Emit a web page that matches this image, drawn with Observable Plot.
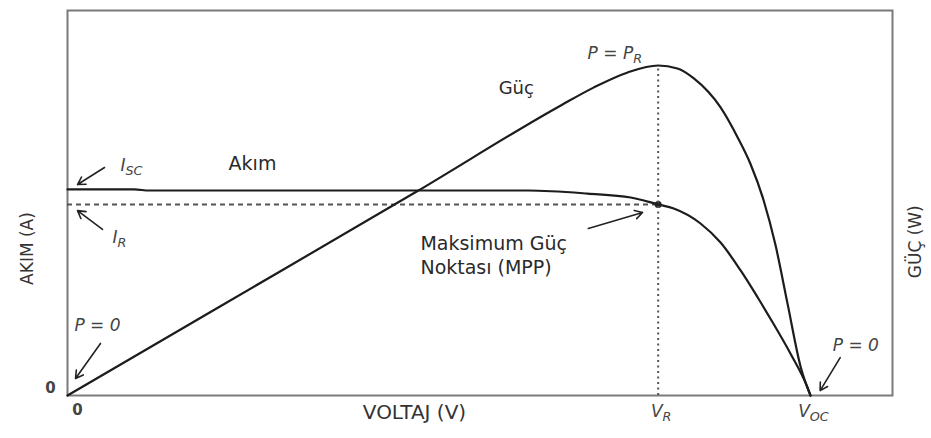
<!DOCTYPE html>
<html><head><meta charset="utf-8">
<script src="https://cdn.jsdelivr.net/npm/d3@7"></script>
<script src="https://cdn.jsdelivr.net/npm/@observablehq/plot@0.6"></script>
<style>
body{margin:0;background:#fff}
#chart{position:relative;width:931px;height:438px}
#chart svg{position:absolute;left:0;top:0}
</style>
</head><body><div id="chart"></div><script>
// Voltage as a fraction of V_OC; current as a fraction of I_SC; power as a fraction of P_R
const currentVoltage = [0, 0.09, 0.11, 0.62, 0.70, 0.758, 0.795, 0.816, 0.852, 0.879, 0.906, 0.929, 0.950, 0.973, 0.996, 1.0];
const currentValues  = [1.005, 1.005, 1.0, 1.0, 0.985, 0.966, 0.932, 0.912, 0.839, 0.746, 0.610, 0.478, 0.351, 0.205, 0.039, 0];
const powerVoltage = [0, 0.20, 0.470, 0.664, 0.708, 0.754, 0.795, 0.821, 0.843, 0.879, 0.902, 0.919, 0.937, 0.953, 0.969, 0.987, 1.0];
const powerValues  = [0, 0.263, 0.618, 0.879, 0.933, 0.979, 1.0, 0.991, 0.961, 0.873, 0.782, 0.703, 0.591, 0.455, 0.28, 0.085, 0];
const vR = 0.795, iR = 0.932, pR = 1.0;

const xDomain = [0, 1.1104];
const yCurrentDomain = [0, 1.878];
const yPowerDomain = [0, 1.1667];

// Tick labels
const xTickPos = [0, vR, 1];
const xTickText = ["0", "V_R", "V_OC"];
const xTickItalic = [false, true, true];

// Annotation texts (in current-plot units)
const middleLabels = [
  {v: 0.249, i: 1.132, text: "Akım", size: 19},
  {v: 0.604, i: 1.498, text: "Güç", size: 18}
];
const startLabels = [
  {v: 0.475, i: 0.741, text: "Maksimum Güç"},
  {v: 0.475, i: 0.624, text: "Noktası (MPP)"}
];
const italicStart = [
  {v: 0.0713, i: 1.122, text: "I_SC"},
  {v: 0.0606, i: 0.771, text: "I_R"},
  {v: 0.700, i: 1.668, text: "P = P_R"}
];
const italicMiddle = [
  {v: 0.0404, i: 0.341, text: "P = 0"},
  {v: 1.061, i: 0.245, text: "P = 0"}
];
const arrows = [
  {v1: 0.0498, i1: 1.112, v2: 0.0135, i2: 1.029},
  {v1: 0.0471, i1: 0.810, v2: 0.0135, i2: 0.902},
  {v1: 0.0444, i1: 0.254, v2: 0.0108, i2: 0.083},
  {v1: 0.701,  i1: 0.815, v2: 0.774,  i2: 0.893},
  {v1: 1.040,  i1: 0.185, v2: 1.013,  i2: 0.024}
];
const xTitle = "VOLTAJ (V)";
const yLeftTitle = "AKIM (A)";
const yRightTitle = "GÜÇ (W)";

const currentData = currentVoltage.map((v, k) => ({v, i: currentValues[k]}));
const powerData = powerVoltage.map((v, k) => ({v, p: powerValues[k]}));
const ticks = xTickPos.map((v, k) => ({v, text: xTickText[k], italic: xTickItalic[k]}));

const FONT = "DejaVu Sans, Verdana, sans-serif";
const common = {
  width: 931, height: 438,
  marginLeft: 67, marginRight: 39, marginTop: 10, marginBottom: 43,
  x: {domain: xDomain, axis: null},
};

const curPlot = Plot.plot({
  ...common,
  y: {domain: yCurrentDomain, axis: null},
  style: {fontFamily: FONT, background: "white", overflow: "visible"},
  marks: [
    Plot.frame({stroke: "#7a7a7a", strokeWidth: 2}),
    Plot.ruleY([iR], {x1: 0, x2: vR, stroke: "#555", strokeWidth: 2, strokeDasharray: "5,4"}),
    Plot.line(currentData, {x: "v", y: "i", curve: "monotone-x", stroke: "#1c1c1c", strokeWidth: 2.2}),
    Plot.dot([{v: vR, i: iR}], {x: "v", y: "i", r: 3.5, fill: "#222"}),
    Plot.arrow(arrows, {x1: "v1", y1: "i1", x2: "v2", y2: "i2", stroke: "#222", strokeWidth: 1.6, headLength: 8}),
    Plot.text(middleLabels, {x: "v", y: "i", text: "text", textAnchor: "middle", lineAnchor: "middle",
      fontSize: "size", fill: "#2a2a2a", letterSpacing: "1.5px"}),
    Plot.text(startLabels, {x: "v", y: "i", text: "text", textAnchor: "start", lineAnchor: "middle",
      fontSize: 19, fill: "#2a2a2a", letterSpacing: "2.4px"}),
    Plot.text(italicStart, {x: "v", y: "i", text: "text", textAnchor: "start", lineAnchor: "middle",
      fontSize: 17, fontStyle: "italic", fill: "#444"}),
    Plot.text(italicMiddle, {x: "v", y: "i", text: "text", textAnchor: "middle", lineAnchor: "middle",
      fontSize: 17, fontStyle: "italic", fill: "#444"}),
    Plot.text(ticks.filter(d => d.italic), {x: "v", frameAnchor: "bottom", lineAnchor: "middle", textAnchor: "middle",
      text: "text", dy: 16, dx: 3, fontSize: 17, fontStyle: "italic", fill: "#444"}),
    Plot.text(ticks.filter(d => !d.italic), {x: "v", frameAnchor: "bottom", lineAnchor: "middle", textAnchor: "middle",
      text: "text", dy: 15, dx: 10, fontSize: 15, fontWeight: "bold", fill: "#444"}),
    Plot.text(["0"], {frameAnchor: "bottom-left", lineAnchor: "middle", textAnchor: "middle", dx: -17, dy: -7,
      fontSize: 15, fontWeight: "bold", fill: "#444"}),
    Plot.text([xTitle], {x: 0.467, frameAnchor: "bottom", lineAnchor: "middle", textAnchor: "middle", dy: 17,
      text: (d) => d, fontSize: 20, fill: "#333", letterSpacing: "2.6px"}),
    Plot.text([yLeftTitle], {y: 0.717, frameAnchor: "left", lineAnchor: "middle", textAnchor: "middle", dx: -40,
      text: (d) => d, rotate: -90, fontSize: 17, fill: "#333", letterSpacing: "1.5px"}),
    Plot.text([yRightTitle], {y: 0.75, frameAnchor: "right", lineAnchor: "middle", textAnchor: "middle", dx: 23,
      text: (d) => d, rotate: -90, fontSize: 17, fill: "#333", letterSpacing: "1.5px"})
  ]
});

const powPlot = Plot.plot({
  ...common,
  y: {domain: yPowerDomain, axis: null},
  style: {fontFamily: FONT, background: "transparent", overflow: "visible"},
  marks: [
    Plot.ruleX([vR], {y1: 0, y2: pR, stroke: "#555", strokeWidth: 2, strokeDasharray: "2,3.5"}),
    Plot.line(powerData, {x: "v", y: "p", curve: "monotone-x", stroke: "#1c1c1c", strokeWidth: 2.2})
  ]
});

function applySubscripts(svg) {
  d3.select(svg).selectAll("text").each(function() {
    const t = this.textContent;
    if (!t.includes("_") || this.querySelector("tspan")) return;
    const [a, b] = t.split("_");
    const sel = d3.select(this);
    sel.text(null);
    sel.append("tspan").text(a);
    sel.append("tspan").attr("dy", "0.3em").attr("font-size", "0.75em").text(b);
  });
}
applySubscripts(curPlot);

const box = document.getElementById("chart");
box.append(curPlot);
box.append(powPlot);
</script></body></html>
